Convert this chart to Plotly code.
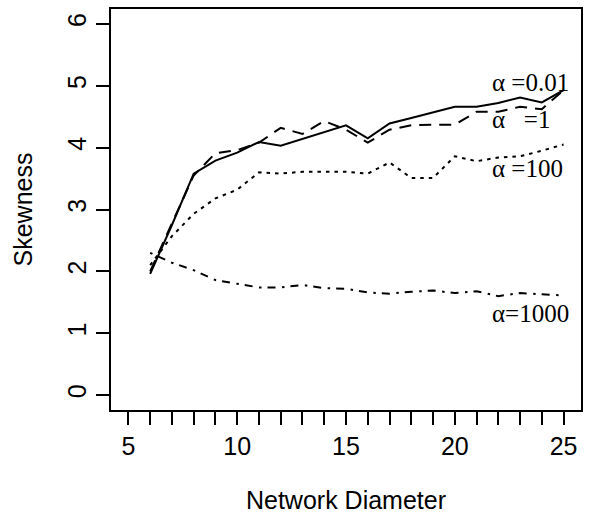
import plotly.graph_objects as go

diameter = list(range(6, 26))
skew_a001 = [1.96, 2.75, 3.58, 3.79, 3.92, 4.09, 4.03, 4.14, 4.25, 4.36,
             4.15, 4.39, 4.48, 4.57, 4.66, 4.66, 4.72, 4.81, 4.73, 4.93]
skew_a1 = [2.00, 2.78, 3.55, 3.91, 3.96, 4.08, 4.32, 4.22, 4.43, 4.29,
           4.08, 4.29, 4.36, 4.37, 4.37, 4.58, 4.58, 4.66, 4.62, 4.93]
skew_a100 = [2.10, 2.57, 2.93, 3.18, 3.32, 3.60, 3.58, 3.61, 3.61, 3.61,
             3.58, 3.76, 3.51, 3.51, 3.86, 3.78, 3.84, 3.86, 3.95, 4.05]
skew_a1000 = [2.30, 2.14, 2.02, 1.86, 1.80, 1.74, 1.74, 1.78, 1.73, 1.72,
              1.66, 1.64, 1.67, 1.69, 1.65, 1.68, 1.60, 1.65, 1.63, 1.61]

series_labels = ["α =0.01", "α   =1", "α =100", "α=1000"]
label_x = [21.6, 21.6, 21.6, 21.6]
label_y = [5.06, 4.45, 3.66, 1.32]

x_tickvals = list(range(5, 26))
x_ticktext = [str(v) if v % 5 == 0 else "" for v in x_tickvals]
y_tickvals = [0, 1, 2, 3, 4, 5, 6]

dashes = ["solid", "12px,8px", "3.5px,5px", "2.5px,6px,8px,6.5px"]

fig = go.Figure()
for ys, d in zip([skew_a001, skew_a1, skew_a100, skew_a1000], dashes):
    fig.add_trace(go.Scatter(x=diameter, y=ys, mode="lines",
                             line=dict(color="black", width=2, dash=d),
                             showlegend=False))

for t, lx, ly in zip(series_labels, label_x, label_y):
    fig.add_annotation(x=lx, y=ly, text=t, showarrow=False, xanchor="left",
                       yanchor="middle",
                       font=dict(family="Liberation Serif", size=25, color="black"))

axis_font = dict(family="Liberation Sans", size=25, color="black")
fig.update_layout(
    width=591, height=521,
    margin=dict(l=111, r=10, t=7, b=111),
    paper_bgcolor="white", plot_bgcolor="white",
    font=axis_font,
    xaxis=dict(range=[4.2, 25.8], tickvals=x_tickvals, ticktext=x_ticktext,
               ticks="outside", ticklen=13, tickwidth=2, tickcolor="black",
               showline=True, linewidth=2, linecolor="black", mirror=True,
               showgrid=False, zeroline=False, tickfont=axis_font,
               title=dict(text="Network Diameter", font=axis_font, standoff=32)),
    yaxis=dict(range=[-0.24, 6.24], tickvals=y_tickvals,
               ticks="outside", ticklen=13, tickwidth=2, tickcolor="black",
               showline=True, linewidth=2, linecolor="black", mirror=True,
               showgrid=False, zeroline=False, tickangle=-90, tickfont=axis_font,
               title=dict(text="Skewness", font=axis_font, standoff=23)),
)

fig.write_html("out.html")
